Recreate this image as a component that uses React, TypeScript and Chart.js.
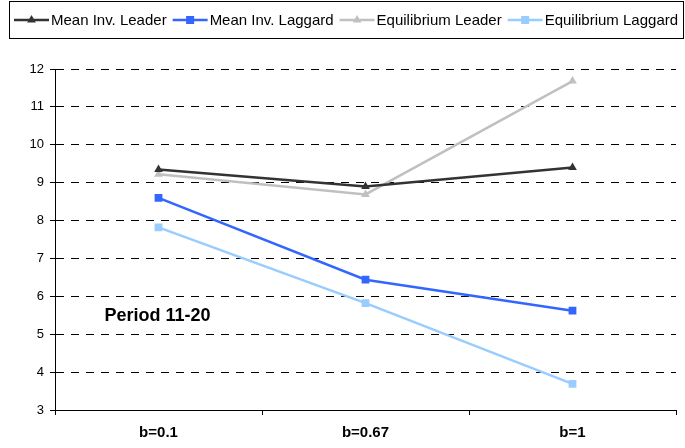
import React, { useEffect, useRef } from "react";
import { Chart, registerables } from "chart.js";

Chart.register(...registerables);

const categories = ["b=0.1", "b=0.67", "b=1"];
const meanInvLeader = [9.35, 8.9, 9.4];
const meanInvLaggard = [8.6, 6.44, 5.62];
const equilibriumLeader = [9.22, 8.69, 11.68];
const equilibriumLaggard = [7.82, 5.82, 3.69];
const yMin = 3;
const yMax = 12;
const annotationText = "Period 11-20";

const FONT = "'Liberation Sans', Arial, sans-serif";

const legendPlugin = {
  id: "boxLegend",
  afterDraw(chart: any) {
    const ctx = chart.ctx;
    ctx.save();
    ctx.strokeStyle = "#000";
    ctx.lineWidth = 1;
    ctx.strokeRect(9.5, 1.5, 674, 37);
    ctx.font = `15px ${FONT}`;
    ctx.textBaseline = "middle";
    ctx.textAlign = "left";
    let x = 14;
    const y = 20;
    chart.data.datasets.forEach((ds: any) => {
      const len = 35;
      ctx.strokeStyle = ds.borderColor;
      ctx.lineWidth = 2.5;
      ctx.beginPath();
      ctx.moveTo(x, y);
      ctx.lineTo(x + len, y);
      ctx.stroke();
      ctx.fillStyle = ds.pointBackgroundColor;
      const cx = x + len / 2;
      if (ds.pointStyle === "triangle") {
        const r = 5;
        ctx.beginPath();
        ctx.moveTo(cx, y - r);
        ctx.lineTo(cx + r * 0.87, y + r * 0.5);
        ctx.lineTo(cx - r * 0.87, y + r * 0.5);
        ctx.closePath();
        ctx.fill();
      } else {
        ctx.fillRect(cx - 4, y - 4, 8, 8);
      }
      ctx.fillStyle = "#000";
      ctx.fillText(ds.label, x + len + 2, y + 0.5);
      x += len + 2 + ctx.measureText(ds.label).width + 6;
    });
    ctx.restore();
  },
};

const annotationPlugin = {
  id: "periodText",
  afterDatasetsDraw(chart: any) {
    const ctx = chart.ctx;
    const xs = chart.scales.x;
    const ys = chart.scales.y;
    ctx.save();
    ctx.font = `bold 18px ${FONT}`;
    ctx.fillStyle = "#000";
    ctx.textBaseline = "middle";
    ctx.textAlign = "left";
    ctx.fillText(annotationText, xs.getPixelForValue(0) - 54, ys.getPixelForValue(5.48));
    ctx.restore();
  },
};

export default function App() {
  const ref = useRef<HTMLCanvasElement>(null);
  useEffect(() => {
    if (!ref.current) return;
    const mk = (label: string, data: number[], color: string, style: string, r: number, order: number) => ({
      label,
      data,
      borderColor: color,
      backgroundColor: color,
      pointBackgroundColor: color,
      pointBorderColor: color,
      pointBorderWidth: 0,
      pointStyle: style,
      pointRadius: r,
      borderWidth: 2.5,
      tension: 0,
      fill: false,
      order,
    });
    const chart = new Chart(ref.current, {
      type: "line",
      data: {
        labels: categories,
        datasets: [
          mk("Mean Inv. Leader", meanInvLeader, "#333333", "triangle", 5, 0),
          mk("Mean Inv. Laggard", meanInvLaggard, "#3366FF", "rect", 5.5, 1),
          mk("Equilibrium Leader", equilibriumLeader, "#C0C0C0", "triangle", 5, 2),
          mk("Equilibrium Laggard", equilibriumLaggard, "#99CCFF", "rect", 5.5, 3),
        ] as any,
      },
      options: {
        animation: false,
        responsive: true,
        maintainAspectRatio: false,
        layout: { padding: { top: 69, right: 9, left: 0, bottom: 0 } },
        plugins: { legend: { display: false }, tooltip: { enabled: false } },
        scales: {
          x: {
            type: "category",
            offset: true,
            grid: {
              offset: true,
              drawOnChartArea: false,
              drawTicks: true,
              tickLength: 5,
              color: "#000",
            },
            border: { color: "#000", width: 1 },
            ticks: {
              color: "#000",
              font: { family: FONT, size: 15, weight: "bold" },
              padding: 9,
              maxRotation: 0,
            },
            afterFit: (s: any) => {
              s.height = 38;
            },
          },
          y: {
            min: yMin,
            max: yMax,
            ticks: {
              stepSize: 1,
              color: "#000",
              font: { family: FONT, size: 13 },
              padding: 6,
            },
            grid: {
              color: (c: any) => (c.tick && c.tick.value === yMin ? "rgba(0,0,0,0)" : "#000"),
              lineWidth: 1,
              tickLength: 5,
              tickColor: "#000",
              tickBorderDash: [],
            },
            border: { color: "#000", width: 1, dash: [8, 7] },
            afterFit: (s: any) => {
              s.width = 55;
            },
          },
        },
      },
      plugins: [legendPlugin, annotationPlugin],
    } as any);
    return () => chart.destroy();
  }, []);
  return (
    <div style={{ position: "absolute", left: 0, top: 0, width: 685, height: 448, background: "#fff" }}>
      <canvas ref={ref} />
    </div>
  );
}
